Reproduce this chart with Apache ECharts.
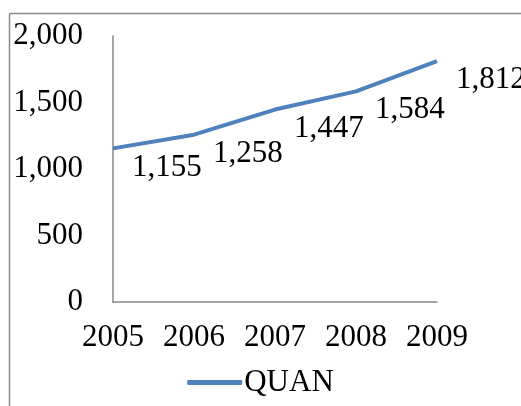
<!DOCTYPE html>
<html><head><meta charset="utf-8">
<script src="https://cdn.jsdelivr.net/npm/echarts@6/dist/echarts.min.js"></script>
<style>html,body{margin:0;padding:0;background:#fff;overflow:hidden}#c{width:521px;height:406px}</style>
</head><body><div id="c"></div>
<script>
const categories = ['2005','2006','2007','2008','2009'];
const quanValues = [1155, 1258, 1447, 1584, 1812];
const seriesName = 'QUAN';
const yTicks = {min: 0, max: 2000, interval: 500};

const font = 'Liberation Serif, Times New Roman, serif';
const fs = 31;
const chart = echarts.init(document.getElementById('c'), null, {renderer: 'canvas'});
chart.setOption({
  animation: false,
  backgroundColor: '#fff',
  graphic: [
    {type: 'line', shape: {x1: 9.5, y1: 13.5, x2: 521, y2: 13.5}, style: {stroke: '#8c8c8c', lineWidth: 1.5}, silent: true},
    {type: 'line', shape: {x1: 9.5, y1: 13.5, x2: 9.5, y2: 406}, style: {stroke: '#8c8c8c', lineWidth: 1.5}, silent: true}
  ],
  grid: {left: 113, top: 36, right: 84, bottom: 104},
  legend: {
    bottom: 3, left: 'center',
    data: [{name: seriesName, icon: 'roundRect'}],
    itemWidth: 55, itemHeight: 5, itemGap: 10,
    textStyle: {fontFamily: font, fontSize: fs, color: '#000', padding: [0,0,0,-3]}
  },
  xAxis: {
    type: 'category', data: categories, boundaryGap: false,
    axisLine: {lineStyle: {color: '#888', width: 1.5}},
    axisTick: {show: false},
    axisLabel: {fontFamily: font, fontSize: fs, color: '#000', margin: 20, interval: 0, hideOverlap: false}
  },
  yAxis: {
    type: 'value', min: yTicks.min, max: yTicks.max, interval: yTicks.interval,
    axisLine: {show: true, lineStyle: {color: '#888', width: 1.5}},
    axisTick: {show: false},
    splitLine: {show: false},
    axisLabel: {
      fontFamily: font, fontSize: fs, color: '#000', margin: 30,
      formatter: v => v.toLocaleString('en-US')
    }
  },
  series: [{
    name: seriesName, type: 'line', data: quanValues,
    showSymbol: true, symbol: 'circle', symbolSize: 0.01,
    lineStyle: {color: '#4f81bd', width: 4},
    itemStyle: {color: '#4f81bd'},
    label: {
      show: true, position: 'right', offset: [14, 19],
      fontFamily: font, fontSize: fs, color: '#000',
      formatter: p => p.value.toLocaleString('en-US')
    }
  }]
});
</script></body></html>
